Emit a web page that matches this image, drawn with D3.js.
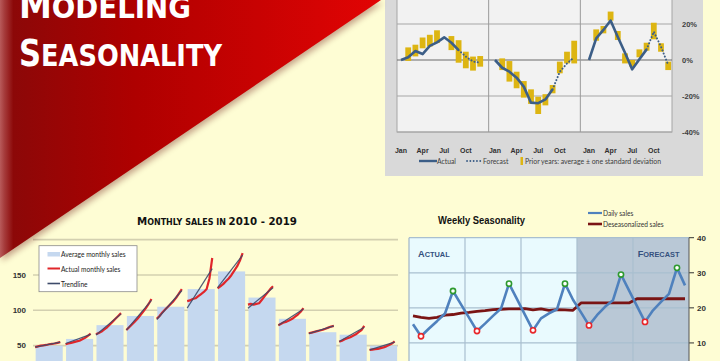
<!DOCTYPE html>
<html><head><meta charset="utf-8">
<script src="https://cdn.jsdelivr.net/npm/d3@7"></script>
<style>body{margin:0;background:#FEFDD4;overflow:hidden}svg{display:block}</style>
</head><body><svg id="c" width="720" height="361"></svg>
<script>
// ===== Data: top-right chart (seasonal % deviation, 3 years) =====
const topMonthLabels = ["Jan","Apr","Jul","Oct"];
const topMonthIdx = [0,3,6,9];
const topYTicks = [20,0,-20,-40];
const devYear1 = [0,1.5,5,3.3,7.8,9.8,12.6,9.6,5.5,1.9,-0.8,-1.5];
const devYear2 = [0,-4.3,-6.5,-9.8,-14.8,-23.7,-24,-21.9,-16.3,-6.5,-1.9,1.5];
const devYear3 = [0,12,16.7,21.9,12.8,4,-5.2,0.4,5.9,15.7,7.4,-2.8];
const actualMonths = 9; // Jan..Sep actual, rest forecast
const lowYear1 = [null,-0.5,2,6.5,7.5,9.5,null,5.5,-1.5,-4.6,-5.9,-3.7];
const highYear1 = [null,7,8.5,12.5,14,16.5,null,13.3,11,4.6,1.9,2.2];
const lowYear2 = [null,-5.6,-12,-15.7,-20.9,-24.4,-30,-25.2,-18.5,-7.4,-1.9,-1.9];
const highYear2 = [null,0.9,-0.6,-6.5,-11.7,-16.3,-20.4,-19,-13.9,-0.9,4.6,10.7];
const lowYear3 = [null,10.7,14.8,21.9,11.1,-1.9,-3.7,1.5,5.2,11.5,4.6,-5.6];
const highYear3 = [null,17,18.9,26.9,16.1,3.7,0,5.9,9.6,20.7,9.3,-0.9];

// ===== Data: monthly sales 2010-2019 =====
const salesMonths = ["Jan","Feb","Mar","Apr","May","Jun","Jul","Aug","Sep","Oct","Nov","Dec"];
const salesYears = [2010,2011,2012,2013,2014,2015,2016,2017,2018,2019];
const avgSales = [50,59.5,79,92,105,130,155,118,88,69,65.5,50];
const actualByMonth = [
  [48,49,50,50.5,51,52,52.5,53,54,55],
  [52,53,54,55,56,57,59,61,64,67],
  [66,68,70,73,76,80,84,88,92,96],
  [72,76,80,84,88,93,98,103,109,116],
  [88,92,97,101,105,109,113,118,124,130],
  [113,114,116,117,120,123,126,130,145,174],
  [131,134,137,141,145,150,156,162,170,181],
  [108,109,108,109,110,115,120,125,130,134],
  [79,81,83,84,86,88,91,94,98,103],
  [67.5,68.5,69.5,70.5,71.5,72.5,74,75.5,77,78],
  [55.6,57,59,60.5,62,64,66,69,72,78],
  [44,44.5,45,45.5,46.5,47.5,49,51,53,56]
];
const trendStart = [48,53,65,72,87,103,132,103,79,67,56,44];
const trendEnd = [55,66,95,114,128,159,178,132,102,78,76,55];
const salesYTicks = [50,100,150,200];
const salesLegend = ["Average monthly sales","Actual monthly sales","Trendline"];

// ===== Data: weekly seasonality =====
const dailySales = [15.3,11.9,14.1,16.2,18.4,24.8,21.0,17.2,13.4,15.5,17.7,19.8,26.9,22.5,18.0,13.6,17.0,18.4,19.6,26.9,22.3,18.7,15.0,17.9,20.3,22.2,29.5,25.0,20.5,16.0,19.3,21.7,24.0,31.4,26.4];
const deseasonalized = [17.7,17.3,17.0,17.3,17.9,18.1,18.5,18.7,19.0,19.2,19.5,19.6,19.7,19.7,19.8,19.4,19.7,19.3,19.5,19.4,19.3,21.4,21.4,21.4,21.4,21.4,21.4,21.4,22.6,22.6,22.6,22.6,22.6,22.6,22.6];
const weekMinIdx = [1,8,15,22,29];
const weekMaxIdx = [5,12,19,26,33];
const weeklyYTicks = [10,20,30,40];
const forecastFrom = 20.5;

const svg = d3.select("#c");
const defs = svg.append("defs");
svg.append("rect").attr("width",720).attr("height",361).attr("fill","#FEFDD4");

// ================= TOP-RIGHT CHART =================
const gT = svg.append("g");
gT.append("rect").attr("x",385).attr("y",-5).attr("width",318).attr("height",181).attr("fill","#D9D9D9");
gT.append("rect").attr("x",397).attr("y",-20).attr("width",275).attr("height",152)
  .attr("fill","#F2F2F2").attr("stroke","#A6A6A6").attr("stroke-width",1);
const yT = d3.scaleLinear().domain([-40,40]).range([132,-12]);
const mX = d3.scaleLinear().domain([0,11]).range([0,79.2]);
const yrX = d3.scaleLinear().domain([0,2]).range([401,589]);
const panelX = d3.scaleLinear().domain([0,3]).range([397,672]);
topYTicks.forEach(v=>{
  gT.append("line").attr("x1",397).attr("x2",672).attr("y1",yT(v)).attr("y2",yT(v))
    .attr("stroke", v===0?"#6A6A6A":"#A6A6A6").attr("stroke-width", v===0?1.2:1);
  gT.append("text").attr("x",682).attr("y",yT(v)).attr("dy","0.35em")
    .attr("font-family","Liberation Sans, Arial").attr("font-weight","bold").attr("font-size",7.5)
    .attr("fill","#404040").text(v+"%");
});
[1,2].forEach(k=>gT.append("line").attr("x1",panelX(k)).attr("x2",panelX(k)).attr("y1",-20).attr("y2",132)
  .attr("stroke","#9A9A9A").attr("stroke-width",1));
const devs = [devYear1,devYear2,devYear3];
const lows = [lowYear1,lowYear2,lowYear3];
const highs = [highYear1,highYear2,highYear3];
devs.forEach((dv,k)=>{
  lows[k].forEach((lo,m)=>{
    if(lo===null) return;
    const hi = highs[k][m];
    gT.append("rect").attr("x",yrX(k)+mX(m)-2.9).attr("width",5.8)
      .attr("y",yT(hi)).attr("height",yT(lo)-yT(hi)).attr("fill","#DDB512");
  });
  const line = d3.line().x((d,i)=>yrX(k)+mX(d.m)).y(d=>yT(d.v));
  const pts = dv.map((v,m)=>({m,v}));
  gT.append("path").attr("d",line(pts.slice(0,actualMonths))).attr("fill","none")
    .attr("stroke","#3C5E87").attr("stroke-width",2.6).attr("stroke-linejoin","round");
  gT.append("path").attr("d",line(pts.slice(actualMonths-1))).attr("fill","none")
    .attr("stroke","#3C5E87").attr("stroke-width",2).attr("stroke-linecap","round")
    .attr("stroke-dasharray","0.1,3.2");
  topMonthIdx.forEach((m,j)=>{
    gT.append("text").attr("x",yrX(k)+mX(m)).attr("y",153).attr("text-anchor","middle")
      .attr("font-family","Liberation Sans, Arial").attr("font-weight","bold").attr("font-size",7)
      .attr("fill","#303030").text(topMonthLabels[j]);
  });
});
// legend
gT.append("line").attr("x1",419).attr("x2",437).attr("y1",161).attr("y2",161).attr("stroke","#3C5E87").attr("stroke-width",2.4);
gT.append("text").attr("x",437).attr("y",163.5).attr("font-family","Lato, Open Sans").attr("font-size",6.8).attr("fill","#404040").text("Actual");
gT.append("line").attr("x1",467).attr("x2",482).attr("y1",161).attr("y2",161).attr("stroke","#3C5E87").attr("stroke-width",1.8)
  .attr("stroke-linecap","round").attr("stroke-dasharray","0.1,3.2");
gT.append("text").attr("x",483).attr("y",163.5).attr("font-family","Lato, Open Sans").attr("font-size",6.8).attr("fill","#404040").text("Forecast");
gT.append("rect").attr("x",520.5).attr("y",157).attr("width",2.5).attr("height",8).attr("fill","#DDB512");
gT.append("text").attr("x",525).attr("y",163.5).attr("font-family","Lato, Open Sans").attr("font-size",6.8).attr("fill","#404040")
  .attr("textLength",136).attr("lengthAdjust","spacingAndGlyphs").text("Prior years: average ± one standard deviation");

// ================= MONTHLY SALES CHART =================
const gM = svg.append("g");
const xM = d3.scaleBand().domain(salesMonths).range([34,398.8]).paddingInner(0.11).paddingOuter(0.055);
const yM = d3.scaleLinear().domain([0,200]).range([381,239.6]);
salesYTicks.forEach(v=>{
  gM.append("line").attr("x1",33).attr("x2",398).attr("y1",yM(v)).attr("y2",yM(v))
    .attr("stroke","#D3D0B0").attr("stroke-width",1.6);
  if(v<200) gM.append("text").attr("x",26).attr("y",yM(v)).attr("dy","0.35em").attr("text-anchor","end")
    .attr("font-family","Liberation Sans, Arial").attr("font-weight","bold").attr("font-size",8).attr("fill","#333").text(v);
});
gM.selectAll("rect.bar").data(avgSales).enter().append("rect").attr("class","bar")
  .attr("x",(d,i)=>xM(salesMonths[i])).attr("width",xM.bandwidth())
  .attr("y",d=>yM(d)).attr("height",d=>362-yM(d)).attr("fill","#C5D8EF");
const span = xM.bandwidth()-2;
const xYear = d3.scaleLinear().domain([0,salesYears.length-1]).range([0,span]);
actualByMonth.forEach((vals,i)=>{
  const x0 = xM(salesMonths[i]) - 0.5;
  const l = d3.line().x((d,j)=>x0+xYear(j)).y(d=>yM(d));
  gM.append("path").attr("d",l(vals)).attr("fill","none").attr("stroke","#E0262A").attr("stroke-width",2.2).attr("stroke-linejoin","round");
  gM.append("line").attr("x1",x0).attr("x2",x0+span).attr("y1",yM(trendStart[i])).attr("y2",yM(trendEnd[i]))
    .attr("stroke","#3D4B6A").attr("stroke-width",1.2).attr("opacity",0.9);
});
// legend box
gM.append("rect").attr("x",39).attr("y",245.7).attr("width",98).attr("height",46).attr("fill","#FFFFFF").attr("stroke","#8A8A8A").attr("stroke-width",0.8);
gM.append("rect").attr("x",47.5).attr("y",252).attr("width",12.5).attr("height",4.5).attr("fill","#C5D8EF");
gM.append("line").attr("x1",47.5).attr("x2",60).attr("y1",268.5).attr("y2",268.5).attr("stroke","#E0262A").attr("stroke-width",2);
gM.append("line").attr("x1",47.5).attr("x2",60).attr("y1",283.5).attr("y2",283.5).attr("stroke","#3D4B6A").attr("stroke-width",1.6);
salesLegend.forEach((t,i)=>gM.append("text").attr("x",61).attr("y",256.5+i*15).attr("font-family","Lato, Open Sans")
  .attr("font-size",6.6).attr("fill","#222").text(t));
// title
const mt = gM.append("text").attr("x",137).attr("y",225).attr("font-family","DejaVu Sans, Verdana").attr("font-weight","bold").attr("fill","#111")
  .attr("textLength",160).attr("lengthAdjust","spacingAndGlyphs");
mt.append("tspan").attr("font-size",10.5).text("M");
mt.append("tspan").attr("font-size",8.2).text("ONTHLY SALES IN ");
mt.append("tspan").attr("font-size",10.5).text("2010 - 2019");

// ================= WEEKLY SEASONALITY CHART =================
const gW = svg.append("g");
const xW = d3.scaleLinear().domain([-0.5,34.5]).range([409,689]);
const yW = d3.scaleLinear().domain([0,40]).range([378,237.7]);
gW.append("rect").attr("x",409).attr("y",yW(40)).attr("width",xW(forecastFrom)-409).attr("height",361-yW(40)).attr("fill","#E9FAFE");
gW.append("rect").attr("x",xW(forecastFrom)).attr("y",yW(40)).attr("width",689-xW(forecastFrom)).attr("height",361-yW(40)).attr("fill","#B9C8D6");
weeklyYTicks.forEach(v=>{
  gW.append("line").attr("x1",409).attr("x2",689).attr("y1",yW(v)).attr("y2",yW(v)).attr("stroke","#A9BFCF").attr("stroke-width",1.2);
  gW.append("line").attr("x1",689).attr("x2",694).attr("y1",yW(v)).attr("y2",yW(v)).attr("stroke","#333").attr("stroke-width",1);
  gW.append("text").attr("x",697).attr("y",yW(v)).attr("dy","0.35em").attr("font-family","Liberation Sans, Arial").attr("font-weight","bold")
    .attr("font-size",8).attr("fill","#333").text(v);
});
[6.5,13.5,20.5,27.5].forEach(b=>gW.append("line").attr("x1",xW(b)).attr("x2",xW(b)).attr("y1",yW(40)).attr("y2",361).attr("stroke","#A9BFCF").attr("stroke-width",1.2));
gW.append("line").attr("x1",409).attr("x2",409).attr("y1",yW(40)).attr("y2",361).attr("stroke","#9FB5C6").attr("stroke-width",1.2);
gW.append("line").attr("x1",689).attr("x2",689).attr("y1",yW(40)).attr("y2",361).attr("stroke","#555").attr("stroke-width",1);
const lw = d3.line().x((d,i)=>xW(i)).y(d=>yW(d));
gW.append("path").attr("d",lw(deseasonalized)).attr("fill","none").attr("stroke","#7A1414").attr("stroke-width",2.8).attr("stroke-linejoin","round");
gW.append("path").attr("d",lw(dailySales)).attr("fill","none").attr("stroke","#4F81BD").attr("stroke-width",2.6).attr("stroke-linejoin","round");
weekMinIdx.forEach(i=>gW.append("circle").attr("cx",xW(i)).attr("cy",yW(dailySales[i])).attr("r",2.6).attr("fill","#fff").attr("stroke","#E8262A").attr("stroke-width",1.6));
weekMaxIdx.forEach(i=>gW.append("circle").attr("cx",xW(i)).attr("cy",yW(dailySales[i])).attr("r",2.6).attr("fill","#fff").attr("stroke","#2E9A2E").attr("stroke-width",1.6));
const at = gW.append("text").attr("x",418).attr("y",257.3).attr("font-family","Liberation Sans, Arial").attr("font-weight","bold").attr("fill","#34507E");
at.append("tspan").attr("font-size",9.2).text("A"); at.append("tspan").attr("font-size",7.4).text("CTUAL");
const ft = gW.append("text").attr("x",679.5).attr("y",256.7).attr("text-anchor","end").attr("font-family","Liberation Sans, Arial").attr("font-weight","bold").attr("fill","#34507E");
ft.append("tspan").attr("font-size",9.2).text("F"); ft.append("tspan").attr("font-size",7.4).text("ORECAST");
gW.append("text").attr("x",438).attr("y",224).attr("font-family","Liberation Sans, Arial").attr("font-weight","bold").attr("font-size",10.5)
  .attr("fill","#111").attr("textLength",87).attr("lengthAdjust","spacingAndGlyphs").text("Weekly Seasonality");
gW.append("line").attr("x1",588).attr("x2",602).attr("y1",213).attr("y2",213).attr("stroke","#4F81BD").attr("stroke-width",2.2);
gW.append("line").attr("x1",588).attr("x2",602).attr("y1",224).attr("y2",224).attr("stroke","#7A1414").attr("stroke-width",2.6);
gW.append("text").attr("x",603).attr("y",215.5).attr("font-family","Lato, Open Sans").attr("font-size",6.6).attr("fill","#333").text("Daily sales");
gW.append("text").attr("x",603).attr("y",226.5).attr("font-family","Lato, Open Sans").attr("font-size",6.6).attr("fill","#333").text("Deseasonalized sales");

// ================= RED TRIANGLE + TITLE =================
const grad = defs.append("linearGradient").attr("id","rg").attr("x1","0").attr("x2","1").attr("y1","0").attr("y2","0");
[[0,"#B85A5A"],[0.012,"#A53A3A"],[0.035,"#8C0808"],[0.35,"#AE0000"],[1,"#E20404"]].forEach(s=>grad.append("stop").attr("offset",s[0]).attr("stop-color",s[1]));
const blur = defs.append("filter").attr("id","sh").attr("x","-20%").attr("y","-20%").attr("width","140%").attr("height","140%");
blur.append("feGaussianBlur").attr("stdDeviation",3);
const tri = "M0,0 L381,0 L0,258 Z";
svg.append("path").attr("d",tri).attr("transform","translate(2,3)").attr("fill","#5a0000").attr("opacity",0.35).attr("filter","url(#sh)");
svg.append("path").attr("d",tri).attr("fill","url(#rg)");
const titleFirst = ["M","S"], titleRest = ["ODELING","EASONALITY"], titleY = [18,65.5], titleW = [172,203];
titleFirst.forEach((f,i)=>{
  const t = svg.append("text").attr("x",19).attr("y",titleY[i]).attr("font-family","DejaVu Sans, Verdana").attr("font-weight","bold").attr("fill","#FFFFFF")
    .attr("textLength",titleW[i]).attr("lengthAdjust","spacingAndGlyphs");
  t.append("tspan").attr("font-size",37).text(f);
  t.append("tspan").attr("font-size",31).text(titleRest[i]);
});
</script></body></html>
